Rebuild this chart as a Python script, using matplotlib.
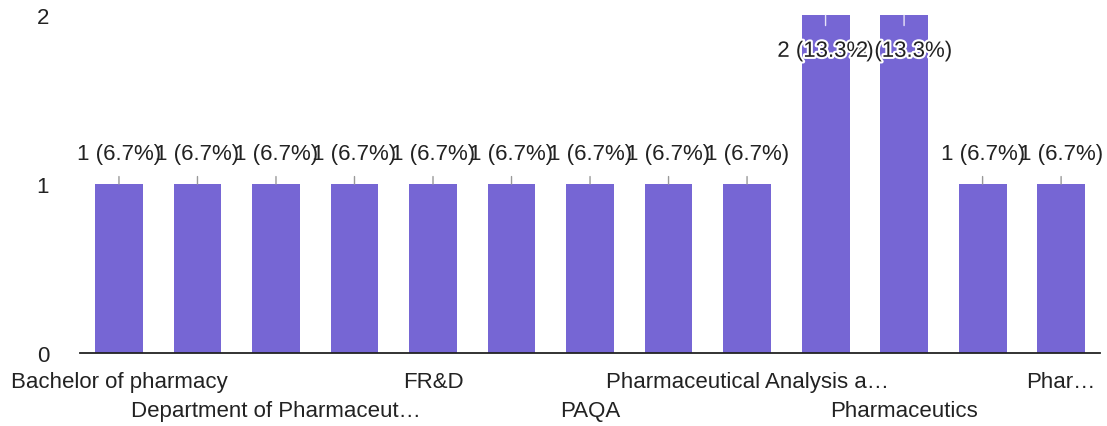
import matplotlib.pyplot as plt
import matplotlib.patheffects as pe

plt.rcParams['font.family'] = ['Liberation Sans', 'DejaVu Sans']

# categories: only every other tick label fits under the bars
categories = ['Bachelor of pharmacy', '', 'Department of Pharmaceut…', '',
              'FR&D', '', 'PAQA', '', 'Pharmaceutical Analysis a…', '',
              'Pharmaceutics', '', 'Phar…']
counts = [1, 1, 1, 1, 1, 1, 1, 1, 1, 2, 2, 1, 1]
total = sum(counts)

fs = 16

fig = plt.figure(figsize=(11.07, 4.27), dpi=100)
ax = fig.add_axes([0.072, 0.171, 0.922, 0.791])

x = list(range(len(counts)))
bar_color = '#7666d4'
ax.bar(x, counts, width=0.61, color=bar_color, zorder=2)

ax.set_xlim(-0.5, len(counts) - 0.5)
ax.set_ylim(0, 2)
ax.set_yticks([0, 1, 2])
ax.tick_params(axis='y', length=0, pad=22, labelsize=fs, labelcolor='#222222')

# tick labels staggered over two rows: major ticks on the top row, minor below
row1 = [i for i, n in enumerate(categories) if n and (i // 2) % 2 == 0]
row2 = [i for i, n in enumerate(categories) if n and (i // 2) % 2 == 1]
ax.set_xticks(row1)
ax.set_xticklabels([categories[i] for i in row1])
ax.set_xticks(row2, minor=True)
ax.set_xticklabels([categories[i] for i in row2], minor=True)
ax.tick_params(axis='x', which='major', length=0, pad=13, labelsize=fs,
               labelcolor='#222222')
ax.tick_params(axis='x', which='minor', length=0, pad=34, labelsize=fs,
               labelcolor='#222222')

for side in ['top', 'right', 'left']:
    ax.spines[side].set_visible(False)
ax.spines['bottom'].set_color('#222222')
ax.spines['bottom'].set_linewidth(1.3)
ax.spines['bottom'].set_zorder(3)

# value labels with short leader lines
for i, v in enumerate(counts):
    pct = v / total * 100
    text = f'{v} ({pct:.1f}%)'
    if v >= ax.get_ylim()[1]:
        ax.annotate(text, xy=(i, v), xytext=(0, -26), textcoords='offset points',
                    ha='center', va='center', fontsize=fs, color='#222222',
                    path_effects=[pe.withStroke(linewidth=3, foreground='white')],
                    arrowprops=dict(arrowstyle='-', color='#e8e4f8', lw=1,
                                    shrinkA=9, shrinkB=0),
                    zorder=4)
    else:
        ax.annotate(text, xy=(i, v), xytext=(0, 22), textcoords='offset points',
                    ha='center', va='center', fontsize=fs, color='#222222',
                    arrowprops=dict(arrowstyle='-', color='#999999', lw=1,
                                    shrinkA=7, shrinkB=0),
                    zorder=4)

fig.savefig('out.png', dpi=100)
